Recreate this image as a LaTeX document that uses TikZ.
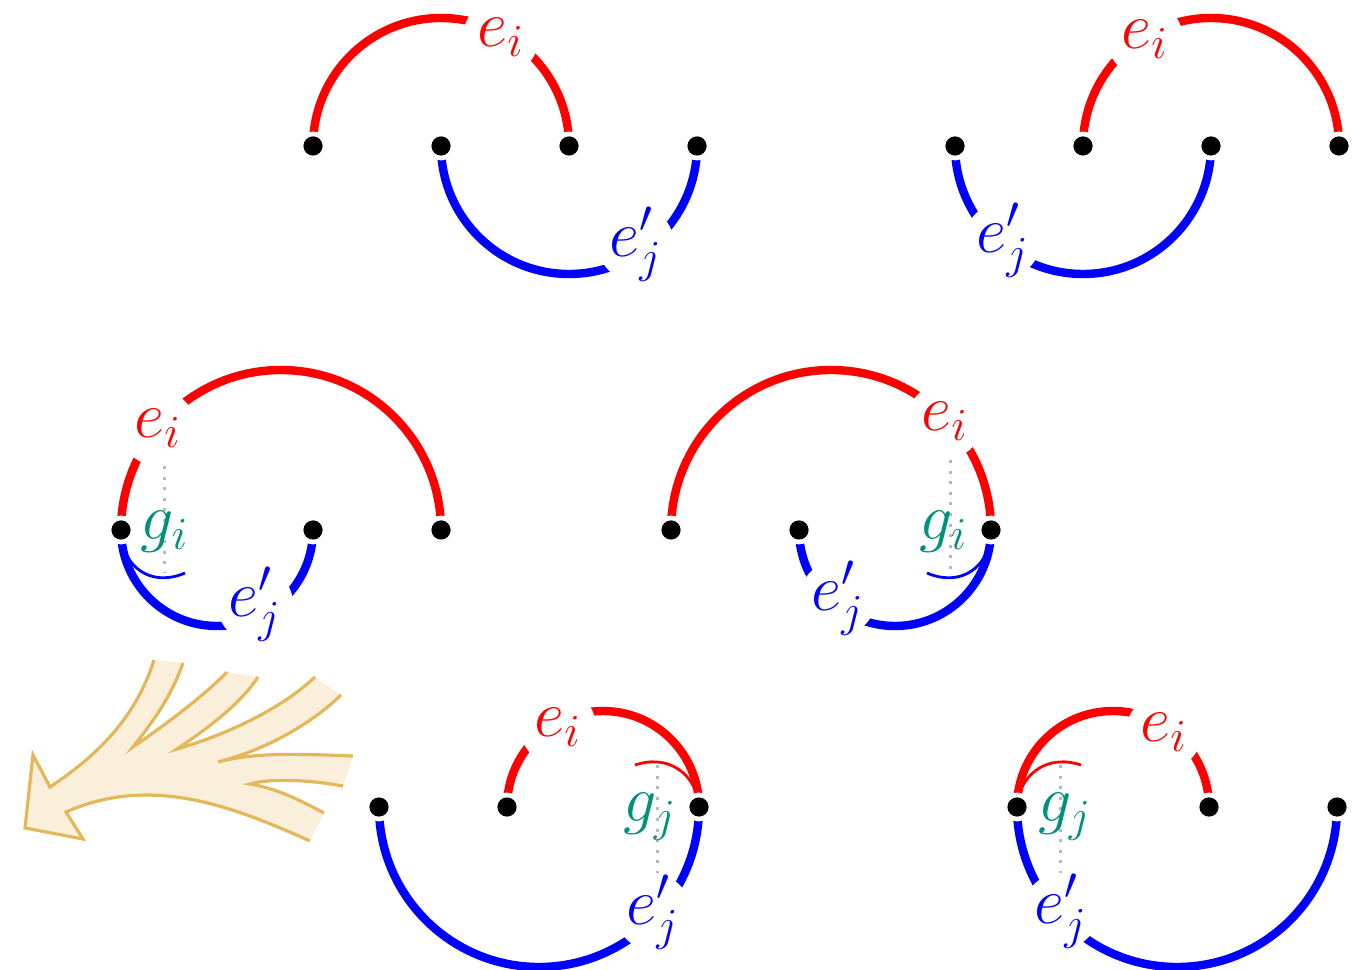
\documentclass[tikz,border=0pt]{standalone}
\definecolor{edgered}{RGB}{255,0,0}
\definecolor{edgeblue}{RGB}{0,0,255}
\definecolor{gapteal}{RGB}{0,145,125}
\definecolor{flowfill}{RGB}{249,239,218}
\definecolor{flowline}{RGB}{228,184,90}
\pgfdeclarelayer{arcs}
\pgfsetlayers{arcs,main}
\tikzset{
  vtx/.style={circle, fill=black, inner sep=0pt, minimum size=4.8pt,
    preaction={draw=white, line width=2.4pt}},
  redarc/.style={draw=edgered, line width=2.1pt},
  bluearc/.style={draw=edgeblue, line width=2.1pt},
  % white disc that breaks the arc, with the edge name set on top of it
  ltext/.style={inner sep=0pt, font=\LARGE, scale=0.955},
  rlbl/.style={circle, fill=white, inner sep=0pt, minimum size=19pt,
    label={[ltext, text=edgered]center:#1}},
  blbl/.style={circle, fill=white, inner sep=0pt, minimum size=19pt,
    label={[ltext, text=edgeblue]center:#1}},
  glbl/.style={ltext, text=gapteal},
  guide/.style={draw=black!28, line width=0.75pt, dash pattern=on 0.75pt off 1.9pt},
  hook/.style={line width=0.7pt},
  flowedge/.style={draw=flowline, line width=0.8pt, line join=miter},
}
\begin{document}
\begin{tikzpicture}[x=0.25pt, y=0.25pt]
\useasboundingbox (0,0) rectangle (1367,-970);

% ---------- merged-branch arrow ----------
\fill[flowfill]
  (310,-841) .. controls (230,-805) and (150,-775) .. (66,-812)
  -- (83,-839) -- (25,-828) -- (33,-755) -- (50,-787)
  .. controls (95,-757) and (135,-720) .. (154,-660)
  -- (183,-663) .. controls (170,-700) and (150,-725) .. (133,-747)
  .. controls (165,-725) and (205,-695) .. (227,-672)
  -- (258,-677) .. controls (240,-705) and (205,-730) .. (177,-749)
  .. controls (225,-735) and (280,-710) .. (315,-677)
  -- (341,-695) .. controls (310,-725) and (265,-750) .. (218,-762)
  .. controls (255,-752) and (300,-754) .. (353,-756)
  -- (343,-786) .. controls (310,-780) and (270,-778) .. (250,-784)
  .. controls (275,-788) and (300,-800) .. (324,-813) -- cycle;
\draw[flowedge]
  (310,-841) .. controls (230,-805) and (150,-775) .. (66,-812)
  -- (83,-839) -- (25,-828) -- (33,-755) -- (50,-787)
  .. controls (95,-757) and (135,-720) .. (154,-660)
  (183,-663) .. controls (170,-700) and (150,-725) .. (133,-747)
  .. controls (165,-725) and (205,-695) .. (227,-672)
  (258,-677) .. controls (240,-705) and (205,-730) .. (177,-749)
  .. controls (225,-735) and (280,-710) .. (315,-677)
  (341,-695) .. controls (310,-725) and (265,-750) .. (218,-762)
  .. controls (255,-752) and (300,-754) .. (353,-756)
  (343,-786) .. controls (310,-780) and (270,-778) .. (250,-784)
  .. controls (275,-788) and (300,-800) .. (324,-813);

% ---------- top left: crossing pair ----------
\node[vtx] (a1) at (313,-146) {};
\node[vtx] (a2) at (441,-146) {};
\node[vtx] (a3) at (569,-146) {};
\node[vtx] (a4) at (697,-146) {};
\begin{pgfonlayer}{arcs}
  \draw[redarc]  (a1) arc[start angle=180, end angle=0,   radius=32pt];
  \draw[bluearc] (a2) arc[start angle=180, end angle=360, radius=32pt];
\end{pgfonlayer}
\node[rlbl=$e_i$]  (a-ei) at (501,-37)  {};
\node[blbl=$e'_j$] (a-ej) at (636,-244) {};

% ---------- top right: crossing pair ----------
\node[vtx] (b1) at (955,-146) {};
\node[vtx] (b2) at (1083,-146) {};
\node[vtx] (b3) at (1211,-146) {};
\node[vtx] (b4) at (1339,-146) {};
\begin{pgfonlayer}{arcs}
  \draw[redarc]  (b2) arc[start angle=180, end angle=0,   radius=32pt];
  \draw[bluearc] (b1) arc[start angle=180, end angle=360, radius=32pt];
\end{pgfonlayer}
\node[rlbl=$e_i$]  (b-ei) at (1145,-39) {};
\node[blbl=$e'_j$] (b-ej) at (1003,-240) {};

% ---------- middle left: shared left end ----------
\node[vtx] (c1) at (121,-530) {};
\node[vtx] (c2) at (313,-530) {};
\node[vtx] (c3) at (441,-530) {};
\begin{pgfonlayer}{arcs}
  \draw[redarc]  (c1) arc[start angle=180, end angle=0,   radius=40pt];
  \draw[bluearc] (c1) arc[start angle=180, end angle=360, radius=24pt];
\end{pgfonlayer}
\draw[guide] (164,-466) -- (164,-573);
\draw[hook, edgeblue] (125,-552) .. controls (138,-580) and (165,-582) .. (185,-573);
\node[rlbl=$e_i$]  (c-ei) at (158,-428) {};
\node[glbl] (c-gi) at (165,-532) {$g_i$};
\node[blbl=$e'_j$] (c-ej) at (255,-604) {};

% ---------- middle right: shared right end ----------
\node[vtx] (d1) at (671,-530) {};
\node[vtx] (d2) at (799,-530) {};
\node[vtx] (d3) at (991,-530) {};
\begin{pgfonlayer}{arcs}
  \draw[redarc]  (d1) arc[start angle=180, end angle=0,   radius=40pt];
  \draw[bluearc] (d2) arc[start angle=180, end angle=360, radius=24pt];
\end{pgfonlayer}
\draw[guide] (950,-460) -- (950,-573);
\draw[hook, edgeblue] (987,-552) .. controls (974,-580) and (947,-582) .. (927,-573);
\node[rlbl=$e_i$]  (d-ei) at (945,-421) {};
\node[glbl] (d-gi) at (944,-532) {$g_i$};
\node[blbl=$e'_j$] (d-ej) at (838,-598) {};

% ---------- bottom middle: shared right end ----------
\node[vtx] (f1) at (379,-807) {};
\node[vtx] (f2) at (507,-807) {};
\node[vtx] (f3) at (699,-807) {};
\begin{pgfonlayer}{arcs}
  \draw[redarc]  (f2) arc[start angle=180, end angle=0,   radius=24pt];
  \draw[bluearc] (f1) arc[start angle=180, end angle=360, radius=40pt];
\end{pgfonlayer}
\draw[guide] (657,-765) -- (657,-873);
\draw[hook, edgered] (635,-765) .. controls (665,-755) and (688,-770) .. (696,-792);
\node[rlbl=$e_i$]  (f-ei) at (558,-727) {};
\node[glbl] (f-gj) at (650,-817) {$g_j$};
\node[blbl=$e'_j$] (f-ej) at (653,-912) {};

% ---------- bottom right: shared left end ----------
\node[vtx] (h1) at (1017,-807) {};
\node[vtx] (h2) at (1209,-807) {};
\node[vtx] (h3) at (1337,-807) {};
\begin{pgfonlayer}{arcs}
  \draw[redarc]  (h1) arc[start angle=180, end angle=0,   radius=24pt];
  \draw[bluearc] (h1) arc[start angle=180, end angle=360, radius=40pt];
\end{pgfonlayer}
\draw[guide] (1060,-765) -- (1060,-873);
\draw[hook, edgered] (1081,-765) .. controls (1051,-755) and (1028,-770) .. (1020,-792);
\node[rlbl=$e_i$]  (h-ei) at (1164,-732) {};
\node[glbl] (h-gj) at (1065,-817) {$g_j$};
\node[blbl=$e'_j$] (h-ej) at (1061,-911) {};
\end{tikzpicture}
\end{document}
